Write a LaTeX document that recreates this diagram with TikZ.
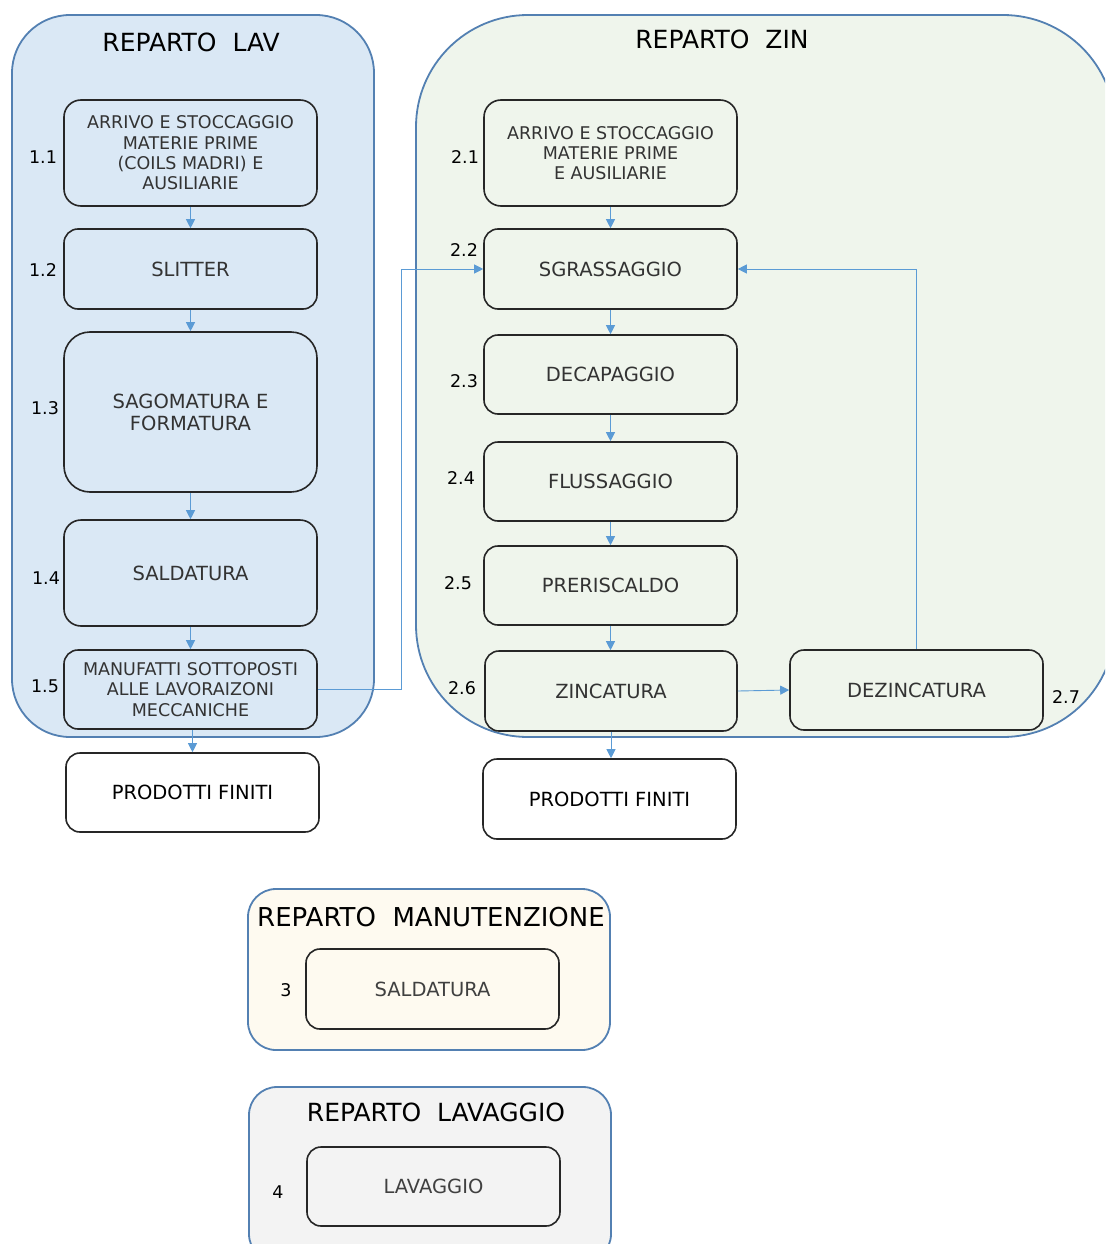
\documentclass[tikz,border=0pt]{standalone}
\usepackage{fontspec}
\setmainfont{DejaVu Sans}
\usetikzlibrary{arrows.meta}
\definecolor{contborder}{HTML}{5380B2}
\definecolor{lavfill}{HTML}{DAE8F5}
\definecolor{zinfill}{HTML}{EFF5EC}
\definecolor{manfill}{HTML}{FEFAF0}
\definecolor{washfill}{HTML}{F3F3F3}
\definecolor{boxborder}{HTML}{262626}
\definecolor{conncol}{HTML}{5B9BD5}
\definecolor{boxtext}{HTML}{333333}
\tikzset{
  container/.style={draw=contborder, line width=1.8pt, rectangle, inner sep=0pt},
  procbox/.style={draw=boxborder, line width=1.6pt, rectangle, inner sep=0pt, align=center,
    text=boxtext, font=\fontsize{19.5}{22}\selectfont, rounded corners=14pt},
  smalltxt/.style={font=\fontsize{17.5}{20.3}\selectfont},
  numlbl/.style={inner sep=0pt, text=black, font=\fontsize{17.5}{20}\selectfont},
  title/.style={inner sep=0pt, text=black, font=\fontsize{25}{30}\selectfont},
  conn/.style={draw=conncol, line width=0.9pt, -{Triangle[length=9pt,width=9pt]}},
}
\begin{document}
\begin{tikzpicture}[x=1pt,y=-1pt]
\useasboundingbox (0,0) rectangle (1105,1244);
\begin{scope}
\clip (0,0) rectangle (1105,1244);
% containers
\node[container, fill=lavfill, minimum width=362pt, minimum height=722pt, rounded corners=58pt] (lav) at (193,376) {};
\node[container, fill=zinfill, minimum width=699pt, minimum height=722pt, rounded corners=112pt] (zin) at (765.5,376) {};
\node[container, fill=manfill, minimum width=362pt, minimum height=161pt, rounded corners=28pt] (man) at (429,969.5) {};
\node[container, fill=washfill, minimum width=362pt, minimum height=175pt, rounded corners=28pt] (wash) at (430,1174.5) {};
\end{scope}
% titles
\node[title] (tlav) at (191,42) {REPARTO~ LAV};
\node[title] (tzin) at (722,39) {REPARTO~ ZIN};
\node[title, font=\fontsize{26}{30}\selectfont] (tman) at (431,917) {REPARTO~ MANUTENZIONE};
\node[title] (twash) at (436,1112) {REPARTO~ LAVAGGIO};
% LAV boxes
\node[procbox, smalltxt, fill=lavfill, minimum width=253pt, minimum height=106pt, rounded corners=17pt] (n11) at (190.5,153) {ARRIVO E STOCCAGGIO\\MATERIE PRIME\\(COILS MADRI) E\\AUSILIARIE};
\node[procbox, fill=lavfill, minimum width=253pt, minimum height=80pt] (n12) at (190.5,269) {SLITTER};
\node[procbox, fill=lavfill, minimum width=253pt, minimum height=160pt, rounded corners=26pt] (n13) at (190.5,412) {SAGOMATURA E\\FORMATURA};
\node[procbox, fill=lavfill, minimum width=253pt, minimum height=106pt, rounded corners=17pt] (n14) at (190.5,573) {SALDATURA};
\node[procbox, smalltxt, fill=lavfill, minimum width=253pt, minimum height=79pt] (n15) at (190.5,689.5) {MANUFATTI SOTTOPOSTI\\ALLE LAVORAIZONI\\MECCANICHE};
\node[procbox, fill=white, minimum width=253pt, minimum height=79pt, text=black] (pf1) at (192.5,792.5) {PRODOTTI FINITI};
% ZIN boxes
\node[procbox, smalltxt, fill=zinfill, minimum width=253pt, minimum height=106pt, rounded corners=17pt] (n21) at (610.5,153) {ARRIVO E STOCCAGGIO\\MATERIE PRIME\\E AUSILIARIE};
\node[procbox, fill=zinfill, minimum width=253pt, minimum height=80pt] (n22) at (610.5,269) {SGRASSAGGIO};
\node[procbox, fill=zinfill, minimum width=253pt, minimum height=79pt] (n23) at (610.5,374.5) {DECAPAGGIO};
\node[procbox, fill=zinfill, minimum width=253pt, minimum height=79pt] (n24) at (610.5,481.5) {FLUSSAGGIO};
\node[procbox, fill=zinfill, minimum width=253pt, minimum height=79pt] (n25) at (610.5,585.5) {PRERISCALDO};
\node[procbox, fill=zinfill, minimum width=252pt, minimum height=80pt] (n26) at (611,691) {ZINCATURA};
\node[procbox, fill=zinfill, minimum width=253pt, minimum height=80pt] (n27) at (916.5,690) {DEZINCATURA};
\node[procbox, fill=white, minimum width=253pt, minimum height=80pt, text=black] (pf2) at (609.5,799) {PRODOTTI FINITI};
% bottom boxes
\node[procbox, fill=manfill, minimum width=253pt, minimum height=80pt, text=black!75] (n3) at (432.5,989) {SALDATURA};
\node[procbox, fill=washfill, minimum width=253pt, minimum height=79pt, text=black!75] (n4) at (433.5,1186.5) {LAVAGGIO};
% number labels
\node[numlbl] (l11) at (43,157) {1.1};
\node[numlbl] (l12) at (43,270) {1.2};
\node[numlbl] (l13) at (45,408) {1.3};
\node[numlbl] (l14) at (46,578) {1.4};
\node[numlbl] (l15) at (45,686) {1.5};
\node[numlbl] (l21) at (465,157) {2.1};
\node[numlbl] (l22) at (464,250) {2.2};
\node[numlbl] (l23) at (464,381) {2.3};
\node[numlbl] (l24) at (461,478) {2.4};
\node[numlbl] (l25) at (458,583) {2.5};
\node[numlbl] (l26) at (462,688) {2.6};
\node[numlbl] (l27) at (1066,697) {2.7};
\node[numlbl] (l3) at (286,990) {3};
\node[numlbl] (l4) at (278,1192) {4};
% connectors
\draw[conn] (n11.south) -- (n12.north);
\draw[conn] (n12.south) -- (n13.north);
\draw[conn] (n13.south) -- (n14.north);
\draw[conn] (n14.south) -- (n15.north);
\draw[conn] ([xshift=2pt]n15.south) -- ([xshift=2pt]n15.south |- pf1.north);
\draw[conn] (n21.south) -- (n22.north);
\draw[conn] (n22.south) -- (n23.north);
\draw[conn] (n23.south) -- (n24.north);
\draw[conn] (n24.south) -- (n25.north);
\draw[conn] (n25.south) -- (n25.south |- n26.north);
\draw[conn] (n26.south) -- (n26.south |- pf2.north);
\draw[conn] (n15.east) -- ++(84,0) |- (n22.west);
\draw[conn] (n26.east) -- (n27.west);
\draw[conn] (n27.north) |- (n22.east);
\end{tikzpicture}
\end{document}
